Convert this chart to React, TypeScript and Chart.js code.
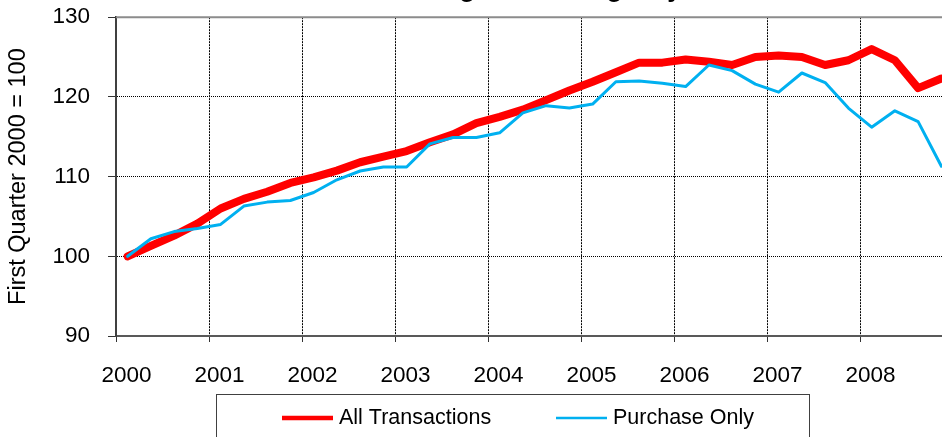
import React, { useEffect, useRef } from 'react';
import { Chart, registerables } from 'chart.js';

Chart.register(...registerables);

// ---- data ----
const yearLabels = ['2000', '2001', '2002', '2003', '2004', '2005', '2006', '2007', '2008'];
const quartersPerYear = 4;

const allTransactions = [
  100.0, 101.3, 102.6, 104.1,
  106.0, 107.2, 108.1, 109.2,
  109.9, 110.75, 111.8, 112.5,
  113.2, 114.3, 115.3, 116.7,
  117.5, 118.4, 119.6, 120.8,
  121.9, 123.1, 124.3, 124.3,
  124.7, 124.4, 124.0, 125.0,
  125.2, 125.0, 124.0, 124.6,
  126.0, 124.6, 121.1, 122.3,
];

const purchaseOnly = [
  100.0, 102.2, 103.1, 103.5,
  104.0, 106.3, 106.8, 107.0,
  108.0, 109.6, 110.7, 111.2,
  111.2, 114.1, 114.9, 114.9,
  115.5, 118.0, 118.9, 118.6,
  119.1, 121.9, 122.0, 121.7,
  121.3, 124.0, 123.3, 121.6,
  120.6, 123.0, 121.8, 118.6,
  116.2, 118.25, 116.9, 111.3,
];

const seriesNames = ['All Transactions', 'Purchase Only'];
const seriesColors = ['#FF0000', '#00B0F0'];
const chartTitle = 'Federal Housing Finance Agency';
const yAxisTitle = 'First Quarter 2000 = 100';
const yMin = 90;
const yMax = 130;
const yStep = 10;

const FONT = '"Liberation Sans", Arial, Helvetica, sans-serif';

const toPoints = (arr: number[]) => arr.map((v, i) => ({ x: i + 0.5, y: v }));

const framePlugin = {
  id: 'frame',
  beforeDatasetsDraw(chart: any) {
    const { ctx, chartArea: a } = chart;
    ctx.save();
    ctx.strokeStyle = '#8c8c8c';
    ctx.lineWidth = 2;
    ctx.beginPath();
    ctx.moveTo(a.left, a.top);
    ctx.lineTo(a.right, a.top);
    ctx.lineTo(a.right, a.bottom);
    ctx.stroke();
    ctx.restore();
  },
};

const boxedLegendPlugin = {
  id: 'boxedLegend',
  afterDraw(chart: any) {
    const { ctx, chartArea: a } = chart;
    const cy = a.bottom + 82;
    ctx.save();
    ctx.strokeStyle = '#404040';
    ctx.lineWidth = 1;
    ctx.strokeRect(216.5, a.bottom + 58.5, 593, 70);
    const starts = [282, 556];
    const widths = [4.5, 2.5];
    chart.data.datasets.forEach((ds: any, i: number) => {
      const x0 = starts[i];
      ctx.strokeStyle = ds.borderColor;
      ctx.lineWidth = widths[i];
      ctx.lineCap = 'butt';
      ctx.beginPath();
      ctx.moveTo(x0, cy);
      ctx.lineTo(x0 + 51, cy);
      ctx.stroke();
      ctx.fillStyle = '#000';
      ctx.font = `21.5px ${FONT}`;
      ctx.textBaseline = 'middle';
      ctx.textAlign = 'left';
      ctx.fillText(ds.label, x0 + 57, cy);
    });
    ctx.restore();
  },
};

export default function App() {
  const ref = useRef<HTMLCanvasElement | null>(null);

  useEffect(() => {
    if (!ref.current) return;
    const chart = new Chart(ref.current, {
      type: 'line',
      data: {
        datasets: [
          {
            label: seriesNames[0],
            data: toPoints(allTransactions),
            borderColor: seriesColors[0],
            backgroundColor: seriesColors[0],
            borderWidth: 8,
            order: 2,
          },
          {
            label: seriesNames[1],
            data: toPoints(purchaseOnly),
            borderColor: seriesColors[1],
            backgroundColor: seriesColors[1],
            borderWidth: 3,
            order: 1,
          },
        ],
      },
      options: {
        responsive: false,
        animation: false,
        events: [],
        layout: { padding: { left: 0, right: 101, top: 0, bottom: 84 } },
        elements: {
          point: { radius: 0, hoverRadius: 0 },
          line: { tension: 0, borderJoinStyle: 'round', borderCapStyle: 'round' },
        },
        plugins: {
          legend: { display: false },
          tooltip: { enabled: false },
          title: {
            display: true,
            text: chartTitle,
            color: '#000',
            font: { family: FONT, size: 26, weight: 'bold' },
            padding: { top: 14, bottom: 12 },
          },
        },
        scales: {
          x: {
            type: 'linear',
            min: 0,
            max: yearLabels.length * quartersPerYear,
            afterFit: (s: any) => { s.height = 60; },
            ticks: {
              stepSize: quartersPerYear,
              autoSkip: false,
              maxRotation: 0,
              labelOffset: 10.5,
              padding: 20,
              color: '#000',
              font: { family: FONT, size: 22.5 },
              callback: (v: any) => {
                const idx = Math.round(Number(v) / quartersPerYear);
                return idx < yearLabels.length ? yearLabels[idx] : '';
              },
            },
            grid: {
              color: (c: any) => {
                const v = c.tick ? c.tick.value : null;
                return v === 0 || v === yearLabels.length * quartersPerYear ? 'rgba(0,0,0,0)' : '#000';
              },
              lineWidth: 1,
              tickLength: 6,
              tickColor: '#333',
              tickWidth: 1,
            },
            border: { display: true, color: '#595959', width: 2, dash: [2, 1] },
          },
          y: {
            min: yMin,
            max: yMax,
            afterFit: (s: any) => { s.width = 116; },
            ticks: {
              stepSize: yStep,
              padding: 18,
              color: '#000',
              font: { family: FONT, size: 22.5 },
            },
            grid: {
              color: (c: any) => {
                const v = c.tick ? c.tick.value : null;
                return v === yMin || v === yMax ? 'rgba(0,0,0,0)' : '#000';
              },
              lineWidth: 1,
              tickLength: 8,
              tickColor: '#333',
              tickWidth: 1,
            },
            border: { display: true, color: '#404040', width: 2, dash: [1, 1] },
            title: {
              display: true,
              text: yAxisTitle,
              color: '#000',
              font: { family: FONT, size: 23.5 },
              padding: { top: 4, bottom: 4 },
            },
          },
        },
      },
      plugins: [framePlugin, boxedLegendPlugin],
    } as any);
    return () => chart.destroy();
  }, []);

  return (
    <div style={{ position: 'fixed', left: 0, top: 0, width: 942, height: 437, overflow: 'hidden', background: '#fff' }}>
      <div style={{ position: 'absolute', left: 0, top: -40, width: 1054, height: 520 }}>
        <canvas ref={ref} width={1054} height={520} style={{ display: 'block' }} />
      </div>
    </div>
  );
}
